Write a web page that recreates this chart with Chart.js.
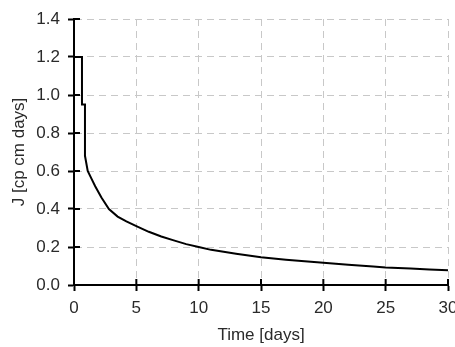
<!DOCTYPE html>
<html>
<head>
<meta charset="utf-8">
<script src="https://cdn.jsdelivr.net/npm/chart.js@4/dist/chart.umd.min.js"></script>
<style>
  html, body { margin: 0; padding: 0; background: #fff; overflow: hidden; }
  #wrap { position: relative; width: 455px; height: 347px; }
</style>
</head>
<body>
<div id="wrap"><canvas id="fluxChart" width="455" height="347"></canvas></div>
<script>
// 时间 (天) 与通量读数
const timeDays = [0, 0.64, 0.64, 0.88, 0.88, 1.1, 1.4, 1.7, 2.2, 2.8, 3.5, 4.2, 5, 6, 7, 8, 9, 10, 11, 12, 13, 14, 15, 17, 19, 20, 22, 24, 25, 27, 28.5, 30];
const fluxValues = [1.2, 1.2, 0.95, 0.95, 0.68, 0.60, 0.56, 0.52, 0.46, 0.40, 0.36, 0.335, 0.31, 0.28, 0.255, 0.235, 0.215, 0.20, 0.185, 0.175, 0.165, 0.155, 0.146, 0.133, 0.122, 0.117, 0.107, 0.098, 0.092, 0.087, 0.082, 0.078];

const xTicks = [0, 5, 10, 15, 20, 25, 30];
const yTicks = [0, 0.2, 0.4, 0.6, 0.8, 1.0, 1.2, 1.4];

const points = timeDays.map((t, i) => ({ x: t, y: fluxValues[i] }));

const labelFont = { family: 'Liberation Sans, Arial', size: 17 };
const textColor = '#2a2a2a';

// 坐标轴上向内的短刻度
const innerTicks = {
  id: 'innerTicks',
  afterDraw(chart) {
    const ctx = chart.ctx;
    const xs = chart.scales.x;
    const ys = chart.scales.y;
    ctx.save();
    ctx.strokeStyle = '#000';
    ctx.lineWidth = 2;
    ctx.beginPath();
    xTicks.forEach(v => {
      const px = xs.getPixelForValue(v);
      ctx.moveTo(px, ys.bottom);
      ctx.lineTo(px, ys.bottom - 6);
    });
    yTicks.forEach(v => {
      const py = ys.getPixelForValue(v);
      ctx.moveTo(xs.left, py);
      ctx.lineTo(xs.left + 6, py);
    });
    ctx.stroke();
    ctx.restore();
  }
};

const ctx = document.getElementById('fluxChart').getContext('2d');
new Chart(ctx, {
  type: 'scatter',
  data: {
    datasets: [{
      data: points,
      showLine: true,
      borderColor: '#000',
      borderWidth: 2,
      pointRadius: 0,
      tension: 0
    }]
  },
  options: {
    responsive: false,
    animation: false,
    layout: { autoPadding: false, padding: { top: 19, right: 7, left: 0, bottom: 0 } },
    plugins: {
      legend: { display: false },
      tooltip: { enabled: false }
    },
    scales: {
      x: {
        type: 'linear',
        min: 0,
        max: 30,
        afterBuildTicks: s => { s.ticks = xTicks.map(v => ({ value: v })); },
        afterFit: s => {
          s.height = 62;
          s.paddingLeft = 0;
          s.paddingRight = 0;
        },
        ticks: {
          color: textColor,
          font: labelFont,
          padding: 7,
          maxRotation: 0
        },
        grid: {
          color: '#c8c8c8',
          lineWidth: 1,
          tickColor: '#000',
          tickLength: 6,
          tickWidth: 2
        },
        border: { color: '#000', width: 2, dash: [7, 5] },
        title: {
          display: true,
          text: 'Time [days]',
          color: textColor,
          font: labelFont,
          padding: { top: 0, bottom: 1 }
        }
      },
      y: {
        type: 'linear',
        min: 0,
        max: 1.4,
        afterBuildTicks: s => { s.ticks = yTicks.map(v => ({ value: v })); },
        afterFit: s => {
          s.width = 74;
          s.paddingTop = 0;
          s.paddingBottom = 0;
        },
        ticks: {
          color: textColor,
          font: labelFont,
          padding: 8,
          callback: v => v.toFixed(1)
        },
        grid: {
          color: '#c8c8c8',
          lineWidth: 1,
          tickColor: '#000',
          tickLength: 6,
          tickWidth: 2
        },
        border: { color: '#000', width: 2, dash: [7, 5] },
        title: {
          display: true,
          text: 'J [cp cm days]',
          color: textColor,
          font: labelFont,
          padding: { top: 9, bottom: 0 }
        }
      }
    }
  },
  plugins: [innerTicks]
});
</script>
</body>
</html>
